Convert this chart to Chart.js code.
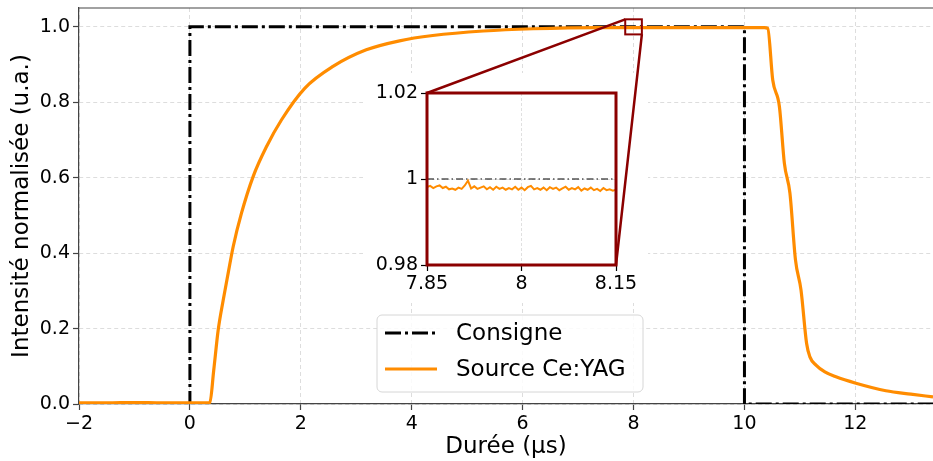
<!DOCTYPE html>
<html>
<head>
<meta charset="utf-8">
<script src="https://cdn.jsdelivr.net/npm/chart.js@4"></script>
<style>
  body { margin: 0; background: #fff; overflow: hidden; }
  #wrap { position: relative; width: 933px; height: 461px; }
  #inset { position: absolute; left: 363px; top: 73px; }
</style>
</head>
<body>
<div id="wrap">
  <canvas id="main" width="933" height="461"></canvas>
  <canvas id="inset" width="285" height="230"></canvas>
</div>
<script>
// consigne (command pulse)
const consigneTime = [-2, 0, 0, 10, 10, 13.4];
const consigneValue = [0, 0, 1, 1, 0, 0];

// Ce:YAG source response
const sourceTime = [-2, -1.5, -1, -0.5, 0, 0.3, 0.36, 0.43, 0.51, 0.6, 0.69, 0.78, 0.93, 1.14, 1.38, 1.65,
  2.07, 2.58, 3.18, 3.78, 4.38, 5.29, 6.19, 7.39, 8.5, 9.5, 10.36, 10.42, 10.51, 10.63, 10.72, 10.82,
  10.92, 11.02, 11.12, 11.18, 11.29, 11.45, 11.65, 12.01, 12.55, 13.0, 13.4];
const sourceValue = [0.003, 0.003, 0.004, 0.003, 0.003, 0.003, 0.004, 0.09, 0.196, 0.275, 0.347, 0.417, 0.506, 0.603, 0.682, 0.753,
  0.837, 0.895, 0.939, 0.963, 0.977, 0.989, 0.995, 0.998, 0.998, 0.998, 0.998, 0.996, 0.859, 0.789, 0.638, 0.559,
  0.382, 0.302, 0.161, 0.125, 0.103, 0.085, 0.072, 0.055, 0.035, 0.026, 0.019];

// zoomed plateau
const zoomTime = [7.85, 7.855, 7.86, 7.865, 7.87, 7.875, 7.88, 7.885, 7.89, 7.895, 7.9, 7.905, 7.91, 7.915, 7.92,
  7.925, 7.93, 7.935, 7.94, 7.945, 7.95, 7.955, 7.96, 7.965, 7.97, 7.975, 7.98, 7.985, 7.99, 7.995, 8.0,
  8.005, 8.01, 8.015, 8.02, 8.025, 8.03, 8.035, 8.04, 8.045, 8.05, 8.055, 8.06, 8.065, 8.07, 8.075, 8.08,
  8.085, 8.09, 8.095, 8.1, 8.105, 8.11, 8.115, 8.12, 8.125, 8.13, 8.135, 8.14, 8.145, 8.15];
const zoomValue = [0.9981, 0.9984, 0.9979, 0.9983, 0.9985, 0.9979, 0.9982, 0.9976, 0.9978, 0.9975, 0.9980, 0.9977, 0.9985, 0.9996, 0.9978,
  0.9983, 0.9977, 0.9980, 0.9983, 0.9976, 0.9981, 0.9975, 0.9982, 0.9977, 0.9980, 0.9975, 0.9979, 0.9976, 0.9982, 0.9975, 0.9980,
  0.9974, 0.9981, 0.9984, 0.9976, 0.9979, 0.9975, 0.9980, 0.9974, 0.9981, 0.9977, 0.9980, 0.9974, 0.9978, 0.9982, 0.9975, 0.9979,
  0.9976, 0.9981, 0.9973, 0.9978, 0.9975, 0.9980, 0.9974, 0.9977, 0.9972, 0.9979, 0.9974, 0.9976, 0.9973, 0.9975];

const xTicksZoom = [7.85, 8, 8.15];
const yTicksZoom = [0.98, 1, 1.02];
const zoomX = [7.85, 8.15];
const zoomY = [0.98, 1.02];

const legendLabels = ['Consigne', 'Source Ce:YAG'];

const FONT = "'DejaVu Sans', sans-serif";
const ORANGE = '#ff8c00';
const DARKRED = '#8b0000';
const AXIS = '#444';

// inset placement (page coords)
const insetBox = { left: 363, top: 73, width: 285, height: 230 };
const insetArea = { left: 64, top: 20, right: 253, bottom: 192 };

const pts = (xs, ys) => xs.map((x, i) => ({ x: x, y: ys[i] }));
const minus = v => (v < 0 ? '\u2212' + Math.abs(v) : String(v));

const mainDecor = {
  id: 'mainDecor',
  beforeDatasetsDraw(chart) {
    const ctx = chart.ctx;
    ctx.save();
    ctx.fillStyle = '#fff';
    ctx.fillRect(insetBox.left, insetBox.top, insetBox.width, insetBox.height);
    ctx.restore();
  },
  afterDatasetsDraw(chart) {
    const ctx = chart.ctx;
    const xs = chart.scales.x, ys = chart.scales.y;
    const x0 = xs.getPixelForValue(zoomX[0]), x1 = xs.getPixelForValue(zoomX[1]);
    const y0 = ys.getPixelForValue(zoomY[1]), y1 = ys.getPixelForValue(zoomY[0]);
    ctx.save();
    ctx.strokeStyle = DARKRED;
    ctx.lineWidth = 2;
    ctx.strokeRect(x0, y0, x1 - x0, y1 - y0);
    ctx.lineWidth = 2.5;
    ctx.beginPath();
    ctx.moveTo(x0, y0);
    ctx.lineTo(insetBox.left + insetArea.left, insetBox.top + insetArea.top);
    ctx.moveTo(x1, y1);
    ctx.lineTo(insetBox.left + insetArea.right, insetBox.top + insetArea.bottom);
    ctx.stroke();
    ctx.restore();
  },
  afterDraw(chart) {
    const ctx = chart.ctx;
    const a = chart.chartArea;
    ctx.save();
    // top spine
    ctx.strokeStyle = AXIS;
    ctx.lineWidth = 1.2;
    ctx.beginPath();
    ctx.moveTo(a.left, a.top);
    ctx.lineTo(a.right, a.top);
    ctx.stroke();

    // legend
    const bx = 377, by = 315, bw = 266, bh = 77, r = 5;
    ctx.beginPath();
    ctx.moveTo(bx + r, by);
    ctx.arcTo(bx + bw, by, bx + bw, by + bh, r);
    ctx.arcTo(bx + bw, by + bh, bx, by + bh, r);
    ctx.arcTo(bx, by + bh, bx, by, r);
    ctx.arcTo(bx, by, bx + bw, by, r);
    ctx.closePath();
    ctx.fillStyle = 'rgba(255,255,255,0.85)';
    ctx.fill();
    ctx.strokeStyle = '#d6d6d6';
    ctx.lineWidth = 1;
    ctx.stroke();

    const ds = chart.data.datasets;
    const rows = [333, 369];
    ctx.font = '23px ' + FONT;
    ctx.textBaseline = 'middle';
    ctx.fillStyle = '#000';
    legendLabels.forEach((lab, i) => {
      const d = ds.find(s => s.label === lab);
      ctx.strokeStyle = d.borderColor;
      ctx.lineWidth = d.borderWidth;
      ctx.setLineDash(d.borderDash || []);
      ctx.lineCap = 'butt';
      ctx.beginPath();
      ctx.moveTo(385, rows[i]);
      ctx.lineTo(437, rows[i]);
      ctx.stroke();
      ctx.setLineDash([]);
      ctx.fillText(lab, 456, rows[i] + 1);
    });
    ctx.restore();
  }
};

new Chart(document.getElementById('main'), {
  type: 'line',
  data: {
    datasets: [
      {
        label: 'Source Ce:YAG',
        data: pts(sourceTime, sourceValue),
        borderColor: ORANGE,
        borderWidth: 3.2,
        pointRadius: 0,
        cubicInterpolationMode: 'monotone',
        order: 0
      },
      {
        label: 'Consigne',
        data: pts(consigneTime, consigneValue),
        borderColor: '#000',
        borderWidth: 3,
        borderDash: [16, 4, 3, 4],
        pointRadius: 0,
        tension: 0,
        order: 1
      }
    ]
  },
  options: {
    responsive: false,
    animation: false,
    layout: { padding: { top: 8, right: 0, left: 0, bottom: 0 } },
    plugins: { legend: { display: false }, tooltip: { enabled: false } },
    scales: {
      x: {
        type: 'linear',
        min: -2,
        max: 13.4,
        afterFit: s => { s.height = 57; s.paddingLeft = 0; s.paddingRight = 0; },
        ticks: {
          stepSize: 2,
          includeBounds: false,
          maxRotation: 0,
          padding: 3,
          color: '#000',
          font: { family: FONT, size: 19 },
          callback: v => minus(v)
        },
        grid: { color: '#d4d4d4', lineWidth: 0.8, tickColor: AXIS, tickLength: 6, tickWidth: 1.2 },
        border: { color: AXIS, width: 1.2, dash: [4, 3] },
        title: {
          display: true,
          text: 'Durée (µs)',
          color: '#000',
          font: { family: FONT, size: 23 },
          padding: { top: 0, bottom: 0 }
        }
      },
      y: {
        min: 0,
        max: 1.05,
        afterFit: s => { s.width = 79; s.paddingTop = 0; s.paddingBottom = 0; },
        ticks: {
          stepSize: 0.2,
          includeBounds: false,
          padding: 3,
          color: '#000',
          font: { family: FONT, size: 19 },
          callback: v => v.toFixed(1)
        },
        grid: { color: '#d4d4d4', lineWidth: 0.8, tickColor: AXIS, tickLength: 6, tickWidth: 1.2 },
        border: { color: AXIS, width: 1.2, dash: [4, 3] },
        title: {
          display: true,
          text: 'Intensité normalisée (u.a.)',
          color: '#000',
          font: { family: FONT, size: 23 },
          padding: { top: 8, bottom: 0 }
        }
      }
    }
  },
  plugins: [mainDecor]
});

const insetFrame = {
  id: 'insetFrame',
  afterDraw(chart) {
    const a = chart.chartArea;
    const ctx = chart.ctx;
    ctx.save();
    ctx.strokeStyle = DARKRED;
    ctx.lineWidth = 3;
    ctx.strokeRect(a.left, a.top, a.right - a.left, a.bottom - a.top);
    ctx.restore();
  }
};

new Chart(document.getElementById('inset'), {
  type: 'line',
  data: {
    datasets: [
      {
        label: 'Source Ce:YAG',
        data: pts(zoomTime, zoomValue),
        borderColor: ORANGE,
        borderWidth: 2,
        pointRadius: 0,
        tension: 0,
        order: 0
      },
      {
        label: 'Consigne',
        data: pts(zoomX, [1, 1]),
        borderColor: '#000',
        borderWidth: 1.2,
        borderDash: [7, 3, 1.5, 3],
        pointRadius: 0,
        order: 1
      }
    ]
  },
  options: {
    responsive: false,
    animation: false,
    layout: { padding: { top: insetArea.top, right: insetBox.width - insetArea.right, left: 0, bottom: 0 } },
    plugins: { legend: { display: false }, tooltip: { enabled: false } },
    scales: {
      x: {
        type: 'linear',
        min: zoomX[0],
        max: zoomX[1],
        afterFit: s => { s.height = insetBox.height - insetArea.bottom; },
        afterBuildTicks: s => { s.ticks = xTicksZoom.map(v => ({ value: v })); },
        ticks: {
          maxRotation: 0,
          padding: 2,
          color: '#000',
          font: { family: FONT, size: 19 },
          callback: v => String(+v.toFixed(2))
        },
        grid: { color: '#d8d8d8', lineWidth: 0.8, tickColor: '#000', tickLength: 6, tickWidth: 1.2 },
        border: { display: false, dash: [3, 2] }
      },
      y: {
        min: zoomY[0],
        max: zoomY[1],
        afterFit: s => { s.width = insetArea.left; s.paddingTop = 0; s.paddingBottom = 0; },
        afterBuildTicks: s => { s.ticks = yTicksZoom.map(v => ({ value: v })); },
        ticks: {
          padding: 3,
          color: '#000',
          font: { family: FONT, size: 19 },
          callback: v => String(+v.toFixed(2))
        },
        grid: { color: '#d8d8d8', lineWidth: 0.8, tickColor: '#000', tickLength: 6, tickWidth: 1.2 },
        border: { display: false, dash: [3, 2] }
      }
    }
  },
  plugins: [insetFrame]
});
</script>
</body>
</html>
